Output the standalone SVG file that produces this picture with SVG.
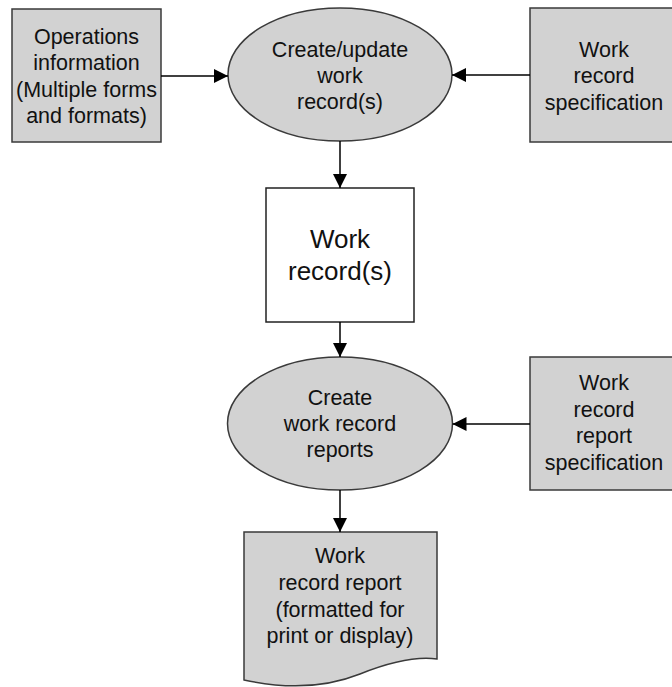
<svg xmlns="http://www.w3.org/2000/svg" width="672" height="687" viewBox="0 0 672 687">
<defs>
<marker id="ah" markerWidth="14" markerHeight="14" refX="14" refY="7" orient="auto" markerUnits="userSpaceOnUse">
<path d="M0,0 L14,7 L0,14 Z" fill="#000"/>
</marker>
<style>
.g{fill:#d2d2d2;stroke:#3a3a3a;stroke-width:1.5}
.w{fill:#fff;stroke:#222;stroke-width:1.5}
.t{font-family:"Liberation Sans",Arial,sans-serif;font-size:21.5px;fill:#111;text-anchor:middle}
.tl{font-family:"Liberation Sans",Arial,sans-serif;font-size:26px;fill:#111;text-anchor:middle}
.c{stroke:#000;stroke-width:1.5;fill:none;marker-end:url(#ah)}
</style>
</defs>
<rect width="672" height="687" fill="#fff"/>
<g id="ops-info">
<rect class="g" x="12" y="9" width="149" height="133"/>
<text class="t" x="86.5" y="44">Operations</text>
<text class="t" x="86.5" y="70">information</text>
<text class="t" x="86.5" y="97">(Multiple forms</text>
<text class="t" x="86.5" y="123">and formats)</text>
</g>
<g id="create-update">
<ellipse class="g" cx="340" cy="74.5" rx="112" ry="66.5"/>
<text class="t" x="340" y="57">Create/update</text>
<text class="t" x="340" y="83">work</text>
<text class="t" x="340" y="109">record(s)</text>
</g>
<g id="work-record-spec">
<rect class="g" x="530" y="8" width="150" height="134"/>
<text class="t" x="604" y="57">Work</text>
<text class="t" x="604" y="83">record</text>
<text class="t" x="604" y="110">specification</text>
</g>
<g id="work-records">
<rect class="w" x="266" y="188" width="148" height="134"/>
<text class="tl" x="340" y="248">Work</text>
<text class="tl" x="340" y="280">record(s)</text>
</g>
<g id="create-reports">
<ellipse class="g" cx="340" cy="423.5" rx="112.5" ry="66.5"/>
<text class="t" x="340" y="405">Create</text>
<text class="t" x="340" y="431">work record</text>
<text class="t" x="340" y="457">reports</text>
</g>
<g id="report-spec">
<rect class="g" x="530" y="357" width="150" height="133"/>
<text class="t" x="604" y="390">Work</text>
<text class="t" x="604" y="417">record</text>
<text class="t" x="604" y="443">report</text>
<text class="t" x="604" y="470">specification</text>
</g>
<g id="report-doc">
<path class="g" d="M244,532 H437 V659 C415,656 390,662 360,674 C330,686 290,690 244,680 Z"/>
<text class="t" x="340" y="563">Work</text>
<text class="t" x="340" y="590">record report</text>
<text class="t" x="340" y="617">(formatted for</text>
<text class="t" x="340" y="643">print or display)</text>
</g>
<g id="connectors">
<line class="c" x1="161" y1="76" x2="228" y2="76"/>
<line class="c" x1="530" y1="75" x2="452" y2="75"/>
<line class="c" x1="340" y1="141" x2="340" y2="188"/>
<line class="c" x1="340" y1="322" x2="340" y2="357"/>
<line class="c" x1="530" y1="424" x2="452.5" y2="424"/>
<line class="c" x1="340" y1="490" x2="340" y2="532"/>
</g>
</svg>
